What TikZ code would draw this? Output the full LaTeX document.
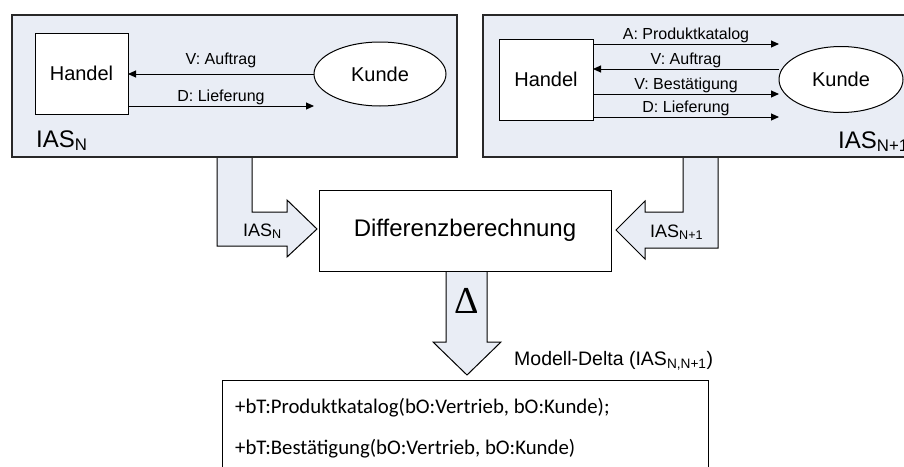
\documentclass[tikz,border=0pt]{standalone}
\usepackage{fontspec}
\setmainfont{Liberation Sans}
\newfontfamily\codefont{Carlito}
\newfontfamily\greekfont{Liberation Serif}
\usetikzlibrary{shapes.geometric, arrows.meta}
\definecolor{panel}{RGB}{233, 237, 245}
\definecolor{rim}{RGB}{40, 40, 40}

\begin{document}
\begin{tikzpicture}[
    x=1pt, y=-1pt,
    system/.style={draw=rim, line width=1.4pt, fill=panel, inner sep=0pt, outer sep=0pt},
    actor/.style={draw, line width=1pt, fill=white, inner sep=0pt, outer sep=0pt, font=\fontsize{20}{24}\selectfont},
    msg/.style={-{Triangle[length=8pt, width=7pt]}, line width=1pt},
    lbl/.style={font=\fontsize{16}{19}\selectfont, inner sep=1pt},
    fat/.style={draw, line width=1pt, fill=panel},
    tag/.style={anchor=base west, inner sep=0pt}
]
    \useasboundingbox (0,0) rectangle (904,466);
    \clip (0,0) rectangle (904,466);

    % block arrows
    \draw[fat] (217,157) -- (217,246) -- (287,246) -- (287,257) -- (317,229) -- (287,200) -- (287,212) -- (252,212) -- (252,157);
    \draw[fat] (683,157) -- (683,212) -- (645,212) -- (645,201) -- (616,230) -- (645,259) -- (645,248) -- (718,248) -- (718,157);
    \draw[fat] (446,271) -- (446,342) -- (433,342) -- (467,375) -- (501,342) -- (487,342) -- (487,271);

    % system N
    \node[system, minimum width=445pt, minimum height=142pt] (sysN) at (234.5,86) {};
    \node[actor, minimum width=93pt, minimum height=81pt] (handelN) at (81.5,73.5) {Handel};
    \node[actor, ellipse, minimum width=132pt, minimum height=64pt] (kundeN) at (380,74) {Kunde};
    \node[tag, font=\fontsize{24}{28}\selectfont] (tagN) at (36,147) {IAS\textsubscript{N}};

    \draw[msg] (kundeN.west) -- node[lbl, above=5pt] {V: Auftrag} (handelN.east |- kundeN.west);
    \draw[msg] (handelN.east |- 0,106) -- node[lbl, above] {D: Lieferung} (kundeN.west |- 0,106);

    % system N+1
    \node[system, minimum width=440pt, minimum height=142pt] (sysM) at (703,86) {};
    \node[actor, minimum width=94pt, minimum height=81pt] (handelM) at (546,79.5) {Handel};
    \node[actor, ellipse, minimum width=124pt, minimum height=66pt] (kundeM) at (841,79.5) {Kunde};
    \node[tag, font=\fontsize{24}{28}\selectfont] (tagM) at (838,148) {IAS\textsubscript{N+1}};

    \draw[msg] (handelM.east |- 0,44) -- node[lbl, above] {A: Produktkatalog} (kundeM.west |- 0,44);
    \draw[msg] (kundeM.west |- 0,69) -- node[lbl, above] {V: Auftrag} (handelM.east |- 0,69);
    \draw[msg] (handelM.east |- 0,94) -- node[lbl, above] {V: Bestätigung} (kundeM.west |- 0,94);
    \draw[msg] (handelM.east |- 0,117) -- node[lbl, above] {D: Lieferung} (kundeM.west |- 0,117);

    % comparison
    \node[actor, font=\fontsize{24}{28}\selectfont, minimum width=292pt, minimum height=81pt] (diff) at (465,230.5) {Differenzberechnung};
    \node[tag, font=\fontsize{18}{21}\selectfont] (inN) at (243,236) {IAS\textsubscript{N}};
    \node[tag, font=\fontsize{18}{21}\selectfont] (inM) at (650,237) {IAS\textsubscript{N+1}};
    \node[anchor=base, inner sep=0pt, font=\greekfont\fontsize{38}{40}\selectfont] (delta) at (467,313) {Δ};
    \node[tag, font=\fontsize{19.5}{23}\selectfont] (deltaTag) at (514,365) {Modell-Delta (IAS\textsubscript{N,N+1})};

    % result
    \node[draw, line width=1pt, fill=white, inner sep=0pt, anchor=north west, minimum width=486pt, minimum height=120pt] (result) at (222,380) {};
    \node[tag, font=\codefont\fontsize{20.8}{25}\selectfont] (addA) at (235,413) {+bT:Produktkatalog(bO:Vertrieb, bO:Kunde);};
    \node[tag, font=\codefont\fontsize{20.8}{25}\selectfont] (addB) at (235,454) {+bT:Bestätigung(bO:Vertrieb, bO:Kunde)};
\end{tikzpicture}
\end{document}
